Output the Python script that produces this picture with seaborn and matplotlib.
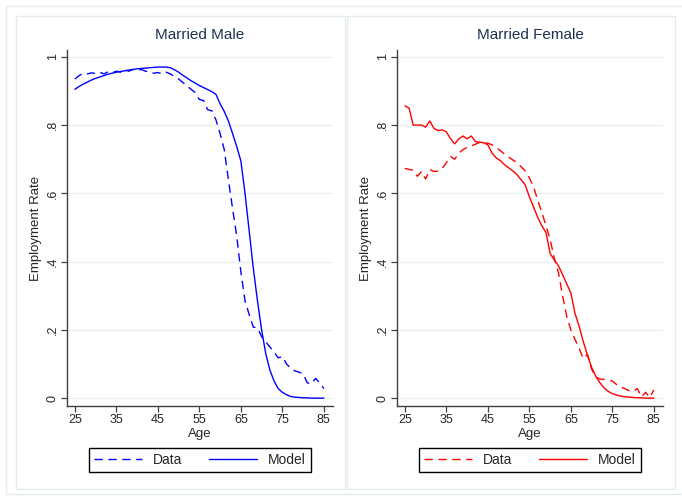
import pandas as pd
import matplotlib
matplotlib.use("Agg")
import matplotlib.pyplot as plt
from matplotlib.patches import Rectangle
import seaborn as sns

# Ages 25..85, one value per year
AGES = list(range(25, 86))

MALE_DATA = [0.935, 0.945, 0.952, 0.950, 0.953, 0.951, 0.955, 0.950, 0.956, 0.953,
             0.958, 0.955, 0.962, 0.958, 0.963, 0.960, 0.963, 0.958, 0.955, 0.952,
             0.954, 0.950, 0.955, 0.950, 0.942, 0.935, 0.925, 0.915, 0.905, 0.895,
             0.875, 0.872, 0.845, 0.842, 0.815, 0.775, 0.728, 0.640, 0.555, 0.475,
             0.370, 0.285, 0.245, 0.208, 0.206, 0.180, 0.165, 0.150, 0.135, 0.118,
             0.122, 0.100, 0.088, 0.080, 0.076, 0.072, 0.045, 0.042, 0.058, 0.045,
             0.028]
MALE_MODEL = [0.905, 0.913, 0.920, 0.926, 0.932, 0.937, 0.941, 0.945, 0.949, 0.952,
              0.955, 0.957, 0.959, 0.961, 0.963, 0.965, 0.966, 0.967, 0.968, 0.969,
              0.970, 0.970, 0.970, 0.968, 0.962, 0.955, 0.946, 0.938, 0.930, 0.923,
              0.916, 0.910, 0.904, 0.898, 0.890, 0.862, 0.840, 0.812, 0.775, 0.737,
              0.695, 0.600, 0.490, 0.380, 0.285, 0.200, 0.130, 0.082, 0.050, 0.028,
              0.017, 0.010, 0.005, 0.003, 0.002, 0.001, 0.001, 0.0, 0.0, 0.0,
              0.0]
FEMALE_DATA = [0.673, 0.670, 0.668, 0.650, 0.664, 0.642, 0.670, 0.664, 0.665, 0.673,
               0.690, 0.708, 0.700, 0.718, 0.728, 0.735, 0.739, 0.744, 0.749, 0.748,
               0.747, 0.742, 0.735, 0.725, 0.715, 0.706, 0.698, 0.690, 0.678, 0.666,
               0.645, 0.620, 0.580, 0.545, 0.505, 0.465, 0.410, 0.368, 0.300, 0.240,
               0.200, 0.172, 0.145, 0.116, 0.128, 0.085, 0.062, 0.056, 0.055, 0.053,
               0.050, 0.040, 0.033, 0.028, 0.022, 0.020, 0.028, 0.004, 0.017, 0.002,
               0.024]
FEMALE_MODEL = [0.856, 0.850, 0.800, 0.800, 0.800, 0.794, 0.812, 0.790, 0.784, 0.786,
                0.780, 0.760, 0.745, 0.760, 0.768, 0.760, 0.768, 0.752, 0.750, 0.748,
                0.742, 0.718, 0.704, 0.696, 0.684, 0.675, 0.666, 0.655, 0.640, 0.625,
                0.590, 0.560, 0.530, 0.505, 0.485, 0.424, 0.405, 0.388, 0.362, 0.335,
                0.308, 0.248, 0.210, 0.165, 0.126, 0.090, 0.064, 0.045, 0.030, 0.020,
                0.013, 0.009, 0.006, 0.004, 0.003, 0.002, 0.001, 0.001, 0.0, 0.0,
                0.0]

X_TICKS = [25, 35, 45, 55, 65, 75, 85]
Y_TICKS = [0, 0.2, 0.4, 0.6, 0.8, 1.0]
Y_LABELS = ["0", ".2", ".4", ".6", ".8", "1"]

W, H = 682, 498


def px_box(x0, y0, x1, y1):
    """Pixel box (top-left origin) -> figure fraction [left, bottom, width, height]."""
    return [x0 / W, (H - y1) / H, (x1 - x0) / W, (y1 - y0) / H]


def draw_panel(ax, title, data, model, color):
    sns.lineplot(x=AGES, y=data, ax=ax, color=color, lw=1.0,
                 linestyle=(0, (6, 4)), label="Data")
    sns.lineplot(x=AGES, y=model, ax=ax, color=color, lw=1.0, label="Model")

    ax.set_xlim(23.1, 87.2)
    ax.set_ylim(-0.023, 1.02)
    ax.set_xticks(X_TICKS)
    ax.set_yticks(Y_TICKS)
    ax.set_yticklabels(Y_LABELS, rotation=90, va="center")
    ax.grid(axis="y", color="#e8f0f1", lw=1.0)
    ax.set_axisbelow(True)
    for s in ["top", "right"]:
        ax.spines[s].set_visible(False)
    for s in ["left", "bottom"]:
        ax.spines[s].set_color("#404040")
        ax.spines[s].set_linewidth(1.0)
    ax.tick_params(axis="both", direction="out", length=4, width=0.9,
                   color="#404040", labelsize=9, pad=2, left=True, bottom=True)
    ax.set_xlabel("Age", fontsize=9.5, labelpad=1)
    ax.set_ylabel("Employment Rate", fontsize=9.5, labelpad=3)
    ax.set_title(title, fontsize=11, color="#1e3250", pad=8)

    leg = ax.legend(loc="upper center", bbox_to_anchor=(0.5, -0.118), ncol=2,
                    frameon=True, fancybox=False, edgecolor="black", framealpha=1,
                    fontsize=10, handlelength=3.45, handletextpad=0.8,
                    columnspacing=1.95, borderpad=0.36, borderaxespad=0)
    leg.get_frame().set_linewidth(1.0)


def main():
    sns.set_style("white")
    plt.rcParams["font.family"] = ["Liberation Sans", "DejaVu Sans"]

    fig = plt.figure(figsize=(W / 100, H / 100), dpi=100)
    fig.patch.set_facecolor("white")

    # outer frame and panel frames
    for box in [(6, 6, 690, 494), (16, 16, 345, 489), (347, 16, 675, 489)]:
        fig.patches.append(Rectangle(px_box(*box)[:2], px_box(*box)[2], px_box(*box)[3],
                                     transform=fig.transFigure, fill=False,
                                     edgecolor="#e4ecee", lw=1.0))

    ax1 = fig.add_axes(px_box(67, 50, 333, 406))
    ax2 = fig.add_axes(px_box(397, 50, 663, 406))

    draw_panel(ax1, "Married Male", MALE_DATA, MALE_MODEL, "#0000ff")
    draw_panel(ax2, "Married Female", FEMALE_DATA, FEMALE_MODEL, "#ff0000")

    fig.savefig("out.png", dpi=100)


if __name__ == "__main__":
    main()
